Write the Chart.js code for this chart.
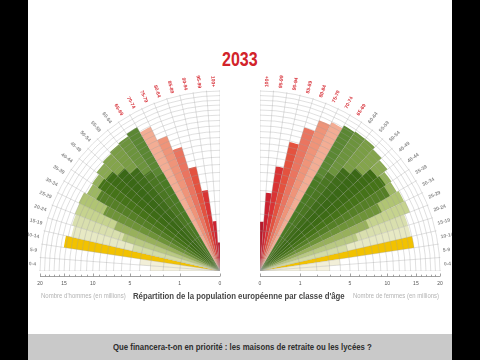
<!DOCTYPE html>
<html lang="fr">
<head>
<meta charset="utf-8">
<title>Répartition de la population européenne par classe d'âge</title>
<script src="https://cdn.jsdelivr.net/npm/chart.js@4.4.1/dist/chart.umd.min.js"></script>
<style>
  html, body { margin: 0; padding: 0; }
  body {
    width: 480px; height: 360px; overflow: hidden; position: relative; background: #fff;
    font-family: "Liberation Sans", Arial, sans-serif;
  }
  canvas { position: absolute; }
  #fanLeft { left: 20px; top: 71px; }
  #fanRight { left: 60px; top: 71px; }
  .txt { position: absolute; white-space: nowrap; transform-origin: 0 50%; }
  #year { top: 47px; font-size: 20px; line-height: 24px; font-weight: bold; color: #d2232a; }
  #subtitle { top: 290px; font-size: 8.6px; line-height: 12px; font-weight: bold; color: #474747; }
  .unit { top: 290px; font-size: 6.3px; line-height: 12px; color: #b4b4b4; }
  #band { position: absolute; left: 0; top: 334px; width: 480px; height: 26px; background: #c9c9c9; }
  #question { top: 341px; font-size: 8.4px; line-height: 12px; font-weight: bold; color: #2e2e2e; }
  .side { position: absolute; top: 0; height: 360px; background: #000; z-index: 5; }
  #sideLeft { left: 0; width: 28px; }
  #sideRight { left: 452px; width: 28px; }
</style>
</head>
<body>
<div class="txt" id="year" data-cx="240" data-w="36">2033</div>
<canvas id="fanLeft" width="400" height="400"></canvas>
<canvas id="fanRight" width="400" height="400"></canvas>
<div class="txt unit" id="unitLeft" data-cx="83.5" data-w="85">Nombre d'hommes (en millions)</div>
<div class="txt" id="subtitle" data-cx="239" data-w="212">Répartition de la population européenne par classe d'âge</div>
<div class="txt unit" id="unitRight" data-cx="396" data-w="86">Nombre de femmes (en millions)</div>
<div id="band"></div>
<div class="txt" id="question" data-cx="242.5" data-w="259">Que financera-t-on en priorité : les maisons de retraite ou les lycées ?</div>
<div class="side" id="sideLeft"></div>
<div class="side" id="sideRight"></div>

<script>
// age groups, youngest first
const ageGroups = ['0-4', '5-9', '10-14', '15-19', '20-24', '25-29', '30-34', '35-39', '40-44', '45-49',
  '50-54', '55-59', '60-64', '65-69', '70-74', '75-79', '80-84', '85-89', '90-94', '95-99', '100+'];

// population 2033, millions
const menTotal = [3.0, 4.0, 15.4, 14.4, 14.8, 15.0, 15.2, 14.6, 14.8, 15.4, 15.8,
  16.2, 16.4, 17.0, 15.8, 13.0, 10.4, 7.1, 4.15, 1.55, 0.5];
const menCore = [0, 0, 0, 5.0, 6.5, 8.0, 10.4, 12.6, 13.5, 13.2, 12.1,
  10.8, 9.2, 8.0, 0, 0, 0, 0, 0, 0, 0];
const womenTotal = [3.0, 4.0, 15.0, 14.8, 14.8, 16.0, 15.8, 15.4, 15.6, 16.4, 17.0,
  17.6, 17.6, 17.4, 16.8, 16.2, 13.9, 10.8, 6.9, 3.8, 1.5];
const womenCore = [0, 0, 0, 5.0, 6.5, 8.5, 11.3, 13.9, 14.3, 13.9, 12.1,
  10.8, 8.9, 7.5, 0, 0, 0, 0, 0, 0, 0];

// grid rings and axis labels (millions)
const ringValues = [0, 1, 2, 3, 4, 5, 6, 7, 8, 9, 10, 11, 12, 13, 14, 15, 16, 17, 18, 19, 20];
const axisTicks = [0, 1, 5, 10, 15, 20];
const seniorFrom = 13; // first "65+" group, labels in red

const outerColors = ['#f4f1df', '#f2efd8', '#f2c200', '#e7e9c4', '#d9dfae', '#c6d38f', '#b0c473',
  '#9db762', '#93b05a', '#8aa952', '#84a44c', '#7a9d45', '#6c933d', '#5b8733',
  '#f3ad94', '#ef9479', '#ea7560', '#e4523f', '#da3334', '#cc2230', '#b8182b'];
const coreColors = ['#f4f1df', '#f2efd8', '#f2c200', '#d3dca6', '#b9c983', '#98b05c', '#6e9338',
  '#557f26', '#457318', '#3d6b15', '#3a6816', '#3f6c1a', '#4a7622', '#4a7a24',
  '#f3ad94', '#ef9479', '#ea7560', '#e4523f', '#da3334', '#cc2230', '#b8182b'];

// condensed look for the captions: squeeze each line to the width it has in the picture
document.querySelectorAll('[data-w]').forEach(el => {
  const natural = el.offsetWidth;
  const target = parseFloat(el.dataset.w);
  el.style.left = (parseFloat(el.dataset.cx) - target / 2) + 'px';
  el.style.transform = 'scaleX(' + (target / natural) + ')';
});

// radial scale whose radius grows with the square root of the value (area ~ population)
const RadialBase = Chart.RadialLinearScale || Chart.registry.getScale('radialLinear');
class RadialSqrtScale extends RadialBase {
  getDistanceFromCenterForValue(value) {
    if (value === null || isNaN(value)) return NaN;
    const f = Math.max(value - this.min, 0) / (this.max - this.min);
    return this.drawingArea * Math.sqrt(f);
  }
}
RadialSqrtScale.id = 'radialSqrt';
Chart.register(RadialSqrtScale);

// a full turn holds 4 x 21 slots, each fan uses one quarter
const SLOTS = ageGroups.length * 4;
function spread(list, side, empty) {
  const out = new Array(SLOTS).fill(empty);
  list.forEach((v, k) => {
    out[side === 'left' ? k : ageGroups.length - 1 - k] = v;
  });
  return out;
}

const fanPlugin = {
  id: 'fan',
  beforeDraw(chart, args, opts) {
    const s = chart.scales.r;
    const ctx = chart.ctx;
    const r = s.getDistanceFromCenterForValue(20) + 1;
    ctx.save();
    ctx.beginPath();
    ctx.moveTo(s.xCenter, s.yCenter);
    if (opts.side === 'left') ctx.arc(s.xCenter, s.yCenter, r, Math.PI, 1.5 * Math.PI);
    else ctx.arc(s.xCenter, s.yCenter, r, -0.5 * Math.PI, 0);
    ctx.closePath();
    ctx.clip();
  },
  afterDraw(chart, args, opts) {
    const s = chart.scales.r;
    const ctx = chart.ctx;
    ctx.restore();
    const left = opts.side === 'left';
    const R = s.getDistanceFromCenterForValue(20);

    // age labels, written along the radius
    ctx.save();
    ctx.font = 'bold 5px "Liberation Sans", sans-serif';
    ctx.textBaseline = 'middle';
    chart.data.labels.forEach((lab, i) => {
      if (!lab) return;
      const p = s.getPointPosition(i + 0.5, R + 4);
      ctx.save();
      ctx.translate(p.x, p.y);
      if (left) { ctx.rotate(p.angle + Math.PI); ctx.textAlign = 'right'; }
      else { ctx.rotate(p.angle); ctx.textAlign = 'left'; }
      ctx.fillStyle = ageGroups.indexOf(lab) >= seniorFrom ? '#d8343c' : '#8d8d8d';
      ctx.fillText(lab, 0, 0);
      ctx.restore();
    });

    // bottom value axis
    const dir = left ? -1 : 1;
    const y = s.yCenter + 5.5;
    ctx.strokeStyle = '#8a8a8a';
    ctx.lineWidth = 0.8;
    ctx.beginPath();
    ctx.moveTo(s.xCenter, y);
    ctx.lineTo(s.xCenter + dir * R, y);
    ringValues.forEach(v => {
      const x = Math.round(s.xCenter + dir * s.getDistanceFromCenterForValue(v)) + 0.5;
      const h = axisTicks.includes(v) ? 3 : 1.8;
      ctx.moveTo(x, y - h);
      ctx.lineTo(x, y);
    });
    ctx.stroke();
    ctx.fillStyle = '#555';
    ctx.font = '5px "Liberation Sans", sans-serif';
    ctx.textAlign = 'center';
    ctx.textBaseline = 'middle';
    axisTicks.forEach(v => {
      ctx.fillText(String(v), s.xCenter + dir * s.getDistanceFromCenterForValue(v), y + 7);
    });
    ctx.restore();
  }
};

function makeFan(id, side, total, core) {
  const gridColor = 'rgba(160,160,160,0.55)';
  return new Chart(document.getElementById(id), {
    type: 'polarArea',
    data: {
      labels: spread(ageGroups, side, ''),
      datasets: [
        { data: spread(core, side, 0), backgroundColor: spread(coreColors, side, 'rgba(0,0,0,0)'), borderWidth: 0 },
        { data: spread(total, side, 0), backgroundColor: spread(outerColors, side, 'rgba(0,0,0,0)'), borderWidth: 0 }
      ]
    },
    options: {
      responsive: false,
      animation: false,
      events: [],
      layout: { padding: 0 },
      plugins: {
        legend: { display: false },
        tooltip: { enabled: false },
        fan: { side: side }
      },
      scales: {
        r: {
          type: 'radialSqrt',
          min: 0,
          max: 20 / 0.81,
          startAngle: side === 'left' ? 270 : 0,
          afterBuildTicks: scale => { scale.ticks = ringValues.map(v => ({ value: v })); },
          ticks: { display: false },
          grid: { z: 1, circular: true, color: gridColor, lineWidth: 0.6 },
          angleLines: { display: true, color: gridColor, lineWidth: 0.6 },
          pointLabels: { display: false }
        }
      }
    },
    plugins: [fanPlugin]
  });
}

makeFan('fanLeft', 'left', menTotal, menCore);
makeFan('fanRight', 'right', womenTotal, womenCore);
</script>
</body>
</html>
